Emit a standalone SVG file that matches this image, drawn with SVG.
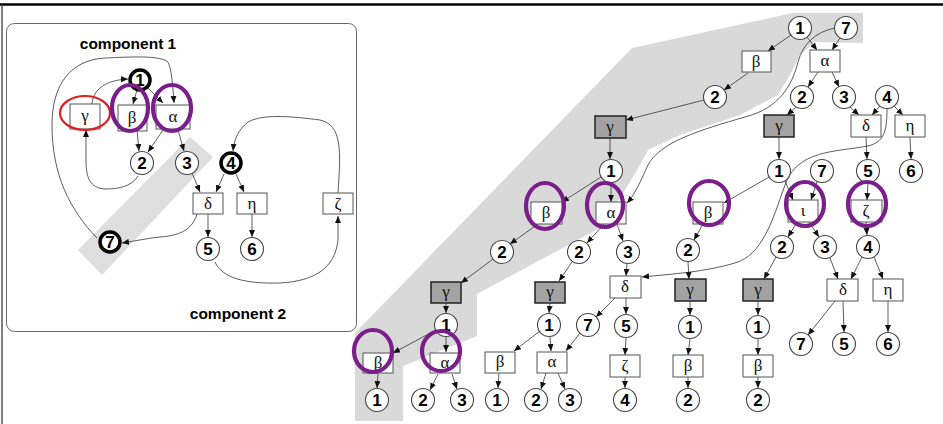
<svg xmlns="http://www.w3.org/2000/svg" width="943" height="424" viewBox="0 0 943 424">
<style>
.c{fill:#fff;stroke:#444;stroke-width:1.1}
.cb{fill:#fff;stroke:#000;stroke-width:3.5}
.b{fill:#fff;stroke:#555;stroke-width:1}
.g{fill:#a3a3a3;stroke:#222;stroke-width:1.5}
.d{font-family:"Liberation Sans",Arial,sans-serif;font-weight:bold;font-size:17px;text-anchor:middle;fill:#000}
.k{font-family:"Liberation Serif","DejaVu Serif",serif;font-size:17px;text-anchor:middle;fill:#111}
.t{font-family:"Liberation Sans",Arial,sans-serif;font-weight:bold;font-size:15.5px;text-anchor:middle;fill:#000}
.p{fill:none;stroke:#7a1f8a;stroke-width:4.2}
.r{fill:none;stroke:#e02020;stroke-width:2.2}
.e{fill:none;stroke:#333;stroke-width:0.8;marker-end:url(#a)}
</style>
<defs>
<marker id="a" markerUnits="userSpaceOnUse" markerWidth="8" markerHeight="6" refX="7" refY="3" orient="auto"><path d="M0,0 L7,3 L0,6 z" fill="#111"/></marker>
</defs>
<rect width="943" height="424" fill="#fff"/>
<line x1="0" y1="4.5" x2="943" y2="4.5" stroke="#000" stroke-width="2.5"/>
<line x1="2" y1="5" x2="2" y2="424" stroke="#555" stroke-width="1.5"/>
<g id="backdrop">
<rect x="6.5" y="23.5" width="350" height="308" rx="8" fill="#fff" stroke="#666" stroke-width="1"/>
<polygon points="78,250 102,275 213,157 190,137" fill="#dedede"/>
<polygon points="632,48 793,13 863,13 863,43 815,42 800,55 790,75 778,95 740,115 680,135 648,150 640,165 625,190 600,228 477,294 477,336 403,366 403,421 355,421 355,333" fill="#d9d9d9"/>
</g>
<text class="t" x="128" y="49">component 1</text>
<text class="t" x="238" y="319">component 2</text>
<g id="connectors">
<path class="e" d="M137,90 L133,104"/>
<path class="e" d="M148,88 L163,103"/>
<path class="e" d="M92,104 C93,90 105,80 128,79"/>
<path class="e" d="M97,238 C70,210 52,175 52,125 C52,85 70,60 105,58 C130,57 160,55 168,62 C172,70 173,90 174,103"/>
<path class="e" d="M137,130 L139,151"/>
<path class="e" d="M163,130 L148,152"/>
<path class="e" d="M178,130 L184,151"/>
<path class="e" d="M138,176 C132,186 120,189 105,189 C90,188 86,178 86,160 L86,130"/>
<path class="e" d="M192,173 L200,192"/>
<path class="e" d="M224,174 L216,192"/>
<path class="e" d="M236,174 L244,192"/>
<path class="e" d="M208,214 L208,237"/>
<path class="e" d="M252,214 L252,237"/>
<path class="e" d="M197,214 C192,232 175,236 160,237 C150,238 140,240 122,243"/>
<path class="e" d="M215,262 C222,278 245,284 280,283 C315,281 335,268 338,240 L338,216"/>
<path class="e" d="M338,193 C341,150 342,125 320,120 C290,116 262,114 248,122 C238,130 234,140 233,151"/>
<path class="e" d="M791,35 L768,51"/>
<path class="e" d="M807,37 L817,50"/>
<path class="e" d="M840,38 L832,50"/>
<path class="e" d="M748,73 L724,90"/>
<path class="e" d="M818,72 L808,87"/>
<path class="e" d="M832,72 L839,87"/>
<path class="e" d="M704,100 L626,120"/>
<path class="e" d="M796,107 L787,115"/>
<path class="e" d="M850,107 L859,115"/>
<path class="e" d="M880,106 L872,115"/>
<path class="e" d="M894,106 L903,115"/>
<path class="e" d="M610,138 L610,159"/>
<path class="e" d="M779,137 L779,159"/>
<path class="e" d="M866,137 L867,159"/>
<path class="e" d="M910,137 L911,159"/>
<path class="e" d="M601,177 L562,202"/>
<path class="e" d="M611,183 L611,202"/>
<path class="e" d="M835,28 C815,32 803,44 798,62 C792,85 780,108 745,117 C700,130 660,142 648,165 C641,180 636,193 627,203"/>
<path class="e" d="M769,177 L724,203"/>
<path class="e" d="M785,181 L793,200"/>
<path class="e" d="M817,182 L811,200"/>
<path class="e" d="M887,108 C887,132 884,142 868,146 C835,152 797,150 785,185 C772,222 762,255 735,263 C705,272 672,274 642,277"/>
<path class="e" d="M868,183 L867,200"/>
<path class="e" d="M538,224 L510,244"/>
<path class="e" d="M604,224 L587,243"/>
<path class="e" d="M617,224 L623,241"/>
<path class="e" d="M703,224 L694,240"/>
<path class="e" d="M797,222 L788,237"/>
<path class="e" d="M809,222 L819,237"/>
<path class="e" d="M866,222 L867,235"/>
<path class="e" d="M493,259 L461,283"/>
<path class="e" d="M572,262 L559,281"/>
<path class="e" d="M627,264 L626,276"/>
<path class="e" d="M688,262 L689,279"/>
<path class="e" d="M776,257 L764,279"/>
<path class="e" d="M830,258 L838,279"/>
<path class="e" d="M862,257 L851,279"/>
<path class="e" d="M874,257 L883,279"/>
<path class="e" d="M446,303 L446,313"/>
<path class="e" d="M550,303 L549,313"/>
<path class="e" d="M615,298 L596,317"/>
<path class="e" d="M626,298 L626,314"/>
<path class="e" d="M690,301 L690,315"/>
<path class="e" d="M758,301 L758,315"/>
<path class="e" d="M835,301 L808,335"/>
<path class="e" d="M843,301 L844,332"/>
<path class="e" d="M888,301 L888,332"/>
<path class="e" d="M436,330 L393,353"/>
<path class="e" d="M446,337 L446,352"/>
<path class="e" d="M540,331 L514,351"/>
<path class="e" d="M550,337 L551,351"/>
<path class="e" d="M580,333 L566,351"/>
<path class="e" d="M626,338 L625,355"/>
<path class="e" d="M690,339 L688,355"/>
<path class="e" d="M758,339 L758,355"/>
<path class="e" d="M378,374 L377,388"/>
<path class="e" d="M438,374 L430,390"/>
<path class="e" d="M452,374 L457,389"/>
<path class="e" d="M499,373 L498,388"/>
<path class="e" d="M546,373 L541,389"/>
<path class="e" d="M558,373 L565,389"/>
<path class="e" d="M625,377 L625,388"/>
<path class="e" d="M688,377 L688,388"/>
<path class="e" d="M758,377 L758,388"/>
</g>
<g id="L1"><circle class="cb" cx="140" cy="80" r="10"/><text class="d" x="140" y="86">1</text></g>
<g id="L4"><circle class="cb" cx="231" cy="163" r="10"/><text class="d" x="231" y="169">4</text></g>
<g id="L7"><circle class="cb" cx="110" cy="242" r="10"/><text class="d" x="110" y="248">7</text></g>
<g id="L2"><circle class="c" cx="142" cy="163" r="11.5"/><text class="d" x="142" y="169">2</text></g>
<g id="L3"><circle class="c" cx="187" cy="163" r="11.5"/><text class="d" x="187" y="169">3</text></g>
<g id="L5"><circle class="c" cx="208" cy="249" r="11.5"/><text class="d" x="208" y="255">5</text></g>
<g id="L6"><circle class="c" cx="252" cy="249" r="11.5"/><text class="d" x="252" y="255">6</text></g>
<g id="Lgamma"><rect class="b" x="70" y="104" width="30" height="25"/><text class="k" x="85" y="121">γ</text><ellipse class="r" cx="85" cy="113" rx="25" ry="17"/></g>
<g id="Lbeta"><rect class="b" x="118" y="105" width="29" height="26"/><text class="k" x="132" y="123">β</text><ellipse class="p" cx="130" cy="108" rx="18" ry="23"/></g>
<g id="Lalpha"><rect class="b" x="156" y="105" width="34" height="24"/><text class="k" x="173" y="122">α</text><ellipse class="p" cx="172" cy="108" rx="19" ry="23"/></g>
<g id="Ldelta"><rect class="b" x="193" y="193" width="30" height="21"/><text class="k" x="208" y="209">δ</text></g>
<g id="Leta"><rect class="b" x="237" y="193" width="30" height="21"/><text class="k" x="252" y="209">η</text></g>
<g id="Lzeta"><rect class="b" x="323" y="193" width="30" height="21"/><text class="k" x="338" y="209">ζ</text></g>
<g id="A1"><circle class="c" cx="800" cy="28" r="11.5"/><text class="d" x="800" y="34">1</text></g>
<g id="A7"><circle class="c" cx="846" cy="28" r="11.5"/><text class="d" x="846" y="34">7</text></g>
<g id="Bb1"><rect class="b" x="742" y="51" width="29" height="21"/><text class="k" x="756" y="67">β</text></g>
<g id="Ba1"><rect class="b" x="810" y="50" width="30" height="22"/><text class="k" x="825" y="66">α</text></g>
<g id="C2a"><circle class="c" cx="715" cy="97" r="11.5"/><text class="d" x="715" y="103">2</text></g>
<g id="C2b"><circle class="c" cx="802" cy="97" r="11.5"/><text class="d" x="802" y="103">2</text></g>
<g id="C3"><circle class="c" cx="844" cy="97" r="11.5"/><text class="d" x="844" y="103">3</text></g>
<g id="C4"><circle class="c" cx="887" cy="97" r="11.5"/><text class="d" x="887" y="103">4</text></g>
<g id="Gg1"><rect class="g" x="595" y="116" width="31" height="22"/><text class="k" x="610" y="132">γ</text></g>
<g id="Gg2"><rect class="g" x="764" y="115" width="30" height="22"/><text class="k" x="779" y="131">γ</text></g>
<g id="Bd1"><rect class="b" x="851" y="115" width="30" height="22"/><text class="k" x="866" y="131">δ</text></g>
<g id="Be1"><rect class="b" x="895" y="115" width="30" height="22"/><text class="k" x="910" y="131">η</text></g>
<g id="D1a"><circle class="c" cx="611" cy="171" r="11.5"/><text class="d" x="611" y="177">1</text></g>
<g id="D1b"><circle class="c" cx="779" cy="171" r="11.5"/><text class="d" x="779" y="177">1</text></g>
<g id="D7"><circle class="c" cx="822" cy="171" r="11.5"/><text class="d" x="822" y="177">7</text></g>
<g id="D5"><circle class="c" cx="868" cy="171" r="11.5"/><text class="d" x="868" y="177">5</text></g>
<g id="D6"><circle class="c" cx="911" cy="171" r="11.5"/><text class="d" x="911" y="177">6</text></g>
<g id="Eb1"><rect class="b" x="531" y="202" width="31" height="22"/><text class="k" x="546" y="218">β</text><ellipse class="p" cx="545" cy="206" rx="19" ry="23"/></g>
<g id="Ea1"><rect class="b" x="596" y="202" width="30" height="22"/><text class="k" x="611" y="218">α</text><ellipse class="p" cx="605" cy="205" rx="18" ry="22"/></g>
<g id="Eb2"><rect class="b" x="693" y="202" width="30" height="22"/><text class="k" x="708" y="218">β</text><ellipse class="p" cx="709" cy="203" rx="20" ry="22"/></g>
<g id="Ei"><rect class="b" x="788" y="200" width="30" height="22"/><text class="k" x="803" y="216">ι</text><ellipse class="p" cx="805" cy="204" rx="19" ry="22"/></g>
<g id="Ez"><rect class="b" x="851" y="200" width="31" height="22"/><text class="k" x="866" y="216">ζ</text><ellipse class="p" cx="867" cy="204" rx="19" ry="22"/></g>
<g id="F2a"><circle class="c" cx="502" cy="252" r="11.5"/><text class="d" x="502" y="258">2</text></g>
<g id="F2b"><circle class="c" cx="579" cy="252" r="11.5"/><text class="d" x="579" y="258">2</text></g>
<g id="F3a"><circle class="c" cx="628" cy="252" r="11.5"/><text class="d" x="628" y="258">3</text></g>
<g id="F2c"><circle class="c" cx="688" cy="250" r="11.5"/><text class="d" x="688" y="256">2</text></g>
<g id="F2d"><circle class="c" cx="782" cy="247" r="11.5"/><text class="d" x="782" y="253">2</text></g>
<g id="F3b"><circle class="c" cx="825" cy="247" r="11.5"/><text class="d" x="825" y="253">3</text></g>
<g id="F4"><circle class="c" cx="868" cy="247" r="11.5"/><text class="d" x="868" y="253">4</text></g>
<g id="Gg3"><rect class="g" x="431" y="282" width="30" height="21"/><text class="k" x="446" y="297">γ</text></g>
<g id="Gg4"><rect class="g" x="535" y="282" width="30" height="21"/><text class="k" x="550" y="297">γ</text></g>
<g id="Gd"><rect class="b" x="610" y="276" width="31" height="22"/><text class="k" x="625" y="292">δ</text></g>
<g id="Gg5"><rect class="g" x="675" y="279" width="31" height="22"/><text class="k" x="690" y="295">γ</text></g>
<g id="Gg6"><rect class="g" x="743" y="279" width="30" height="22"/><text class="k" x="758" y="295">γ</text></g>
<g id="Gd2"><rect class="b" x="827" y="279" width="31" height="22"/><text class="k" x="843" y="295">δ</text></g>
<g id="Ge"><rect class="b" x="873" y="279" width="30" height="22"/><text class="k" x="888" y="295">η</text></g>
<g id="H1a"><circle class="c" cx="446" cy="325" r="11.5"/><text class="d" x="446" y="331">1</text></g>
<g id="H1b"><circle class="c" cx="549" cy="325" r="11.5"/><text class="d" x="549" y="331">1</text></g>
<g id="H7"><circle class="c" cx="588" cy="325" r="11.5"/><text class="d" x="588" y="331">7</text></g>
<g id="H5"><circle class="c" cx="626" cy="326" r="11.5"/><text class="d" x="626" y="332">5</text></g>
<g id="H1c"><circle class="c" cx="690" cy="327" r="11.5"/><text class="d" x="690" y="333">1</text></g>
<g id="H1d"><circle class="c" cx="758" cy="327" r="11.5"/><text class="d" x="758" y="333">1</text></g>
<g id="H7b"><circle class="c" cx="801" cy="344" r="11.5"/><text class="d" x="801" y="350">7</text></g>
<g id="H5b"><circle class="c" cx="844" cy="344" r="11.5"/><text class="d" x="844" y="350">5</text></g>
<g id="H6b"><circle class="c" cx="888" cy="344" r="11.5"/><text class="d" x="888" y="350">6</text></g>
<g id="Ib1"><rect class="b" x="363" y="353" width="30" height="20"/><text class="k" x="378" y="368">β</text><ellipse class="p" cx="373" cy="351" rx="19" ry="21"/></g>
<g id="Ia1"><rect class="b" x="430" y="353" width="30" height="20"/><text class="k" x="445" y="368">α</text><ellipse class="p" cx="441" cy="351" rx="19" ry="20"/></g>
<g id="Ib2"><rect class="b" x="485" y="352" width="30" height="21"/><text class="k" x="500" y="367">β</text></g>
<g id="Ia2"><rect class="b" x="537" y="352" width="30" height="21"/><text class="k" x="552" y="367">α</text></g>
<g id="Iz"><rect class="b" x="610" y="355" width="30" height="22"/><text class="k" x="625" y="371">ζ</text></g>
<g id="Ib3"><rect class="b" x="673" y="355" width="30" height="22"/><text class="k" x="688" y="371">β</text></g>
<g id="Ib4"><rect class="b" x="743" y="355" width="30" height="22"/><text class="k" x="758" y="371">β</text></g>
<g id="J1a"><circle class="c" cx="377" cy="400" r="11.5"/><text class="d" x="377" y="406">1</text></g>
<g id="J2a"><circle class="c" cx="423" cy="400" r="11.5"/><text class="d" x="423" y="406">2</text></g>
<g id="J3a"><circle class="c" cx="462" cy="400" r="11.5"/><text class="d" x="462" y="406">3</text></g>
<g id="J1b"><circle class="c" cx="497" cy="400" r="11.5"/><text class="d" x="497" y="406">1</text></g>
<g id="J2b"><circle class="c" cx="536" cy="400" r="11.5"/><text class="d" x="536" y="406">2</text></g>
<g id="J3b"><circle class="c" cx="570" cy="400" r="11.5"/><text class="d" x="570" y="406">3</text></g>
<g id="J4"><circle class="c" cx="625" cy="400" r="11.5"/><text class="d" x="625" y="406">4</text></g>
<g id="J2c"><circle class="c" cx="688" cy="400" r="11.5"/><text class="d" x="688" y="406">2</text></g>
<g id="J2d"><circle class="c" cx="758" cy="400" r="11.5"/><text class="d" x="758" y="406">2</text></g>
</svg>
